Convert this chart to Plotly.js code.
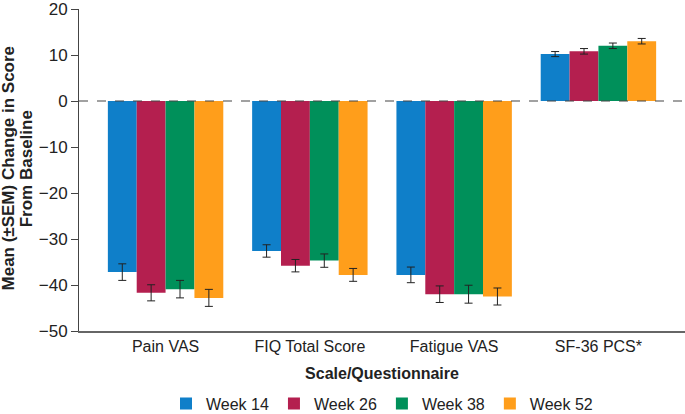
<!DOCTYPE html>
<html>
<head>
<meta charset="utf-8">
<script src="https://cdn.plot.ly/plotly-3.0.1.min.js"></script>
<style>
  html, body { margin: 0; padding: 0; background: #fff; }
  #chart { width: 685px; height: 414px; }
</style>
</head>
<body>
<div id="chart"></div>
<script>
const categories = ["Pain VAS", "FIQ Total Score", "Fatigue VAS", "SF-36 PCS*"];
const weeks = ["Week 14", "Week 26", "Week 38", "Week 52"];
const colors = ["#0f7fc9", "#b41f4f", "#00905a", "#ff9e1b"];

// mean change from baseline, one array per week
const week14 = [-37.2, -32.6, -37.8, 10.2];
const week26 = [-41.7, -35.8, -42.0, 10.8];
const week38 = [-40.9, -34.7, -42.0, 12.0];
const week52 = [-42.8, -37.8, -42.5, 13.0];

// SEM
const sem14 = [1.8, 1.35, 1.7, 0.55];
const sem26 = [1.75, 1.35, 1.8, 0.6];
const sem38 = [1.9, 1.45, 1.95, 0.6];
const sem52 = [1.85, 1.4, 1.85, 0.6];

const yTitleLines = ["Mean (±SEM) Change in Score", "From Baseline"];

const means = [week14, week26, week38, week52];
const sems = [sem14, sem26, sem38, sem52];

const font = "Arial, 'Liberation Sans', Helvetica, sans-serif";

const traces = weeks.map((w, i) => ({
  type: "bar",
  name: w,
  x: categories,
  y: means[i],
  marker: { color: colors[i] },
  error_y: {
    type: "data",
    array: sems[i],
    visible: true,
    color: "#222",
    thickness: 1,
    width: 4,
  },
  hoverinfo: "skip",
}));

// y title drawn as two rotated annotations to keep the tight line spacing
const yTitle = yTitleLines.map((t, i) => ({
  text: "<b>" + t + "</b>",
  xref: "paper",
  yref: "paper",
  x: i === 0 ? -0.117 : -0.086,
  y: 0.505,
  xanchor: "center",
  yanchor: "middle",
  textangle: -90,
  showarrow: false,
  font: { size: 17, color: "#222" },
}));

const layout = {
  width: 685,
  height: 414,
  margin: { l: 79, r: 0, t: 9, b: 83 },
  paper_bgcolor: "#fff",
  plot_bgcolor: "#fff",
  font: { family: font, size: 16, color: "#222" },
  barmode: "group",
  bargap: 0.2,
  bargroupgap: 0,
  showlegend: true,
  legend: {
    orientation: "h",
    x: 0.5,
    xanchor: "center",
    y: 0.025,
    yref: "container",
    yanchor: "middle",
    font: { size: 16, color: "#222" },
    itemwidth: 30,
  },
  xaxis: {
    type: "category",
    range: [-0.6, 3.6],
    automargin: false,
    showline: true,
    linecolor: "#666",
    linewidth: 1.5,
    ticks: "",
    showgrid: false,
    zeroline: false,
    tickfont: { size: 16, color: "#222" },
    title: {
      text: "<b>Scale/Questionnaire</b>",
      font: { size: 16, color: "#222" },
      standoff: 14,
    },
  },
  yaxis: {
    range: [-50, 20],
    tickvals: [-50, -40, -30, -20, -10, 0, 10, 20],
    automargin: false,
    ticklabeloverflow: "allow",
    showline: true,
    linecolor: "#444",
    linewidth: 1,
    ticks: "outside",
    ticklen: 7,
    tickcolor: "#444",
    showgrid: false,
    zeroline: false,
    tickfont: { size: 17, color: "#222" },
  },
  annotations: yTitle,
  shapes: [
    {
      type: "line",
      xref: "paper",
      yref: "y",
      x0: 0,
      x1: 1,
      y0: 0,
      y1: 0,
      line: { color: "#444", width: 1.2, dash: "dash" },
    },
  ],
};

Plotly.newPlot("chart", traces, layout, { staticPlot: true, displayModeBar: false });
</script>
</body>
</html>
